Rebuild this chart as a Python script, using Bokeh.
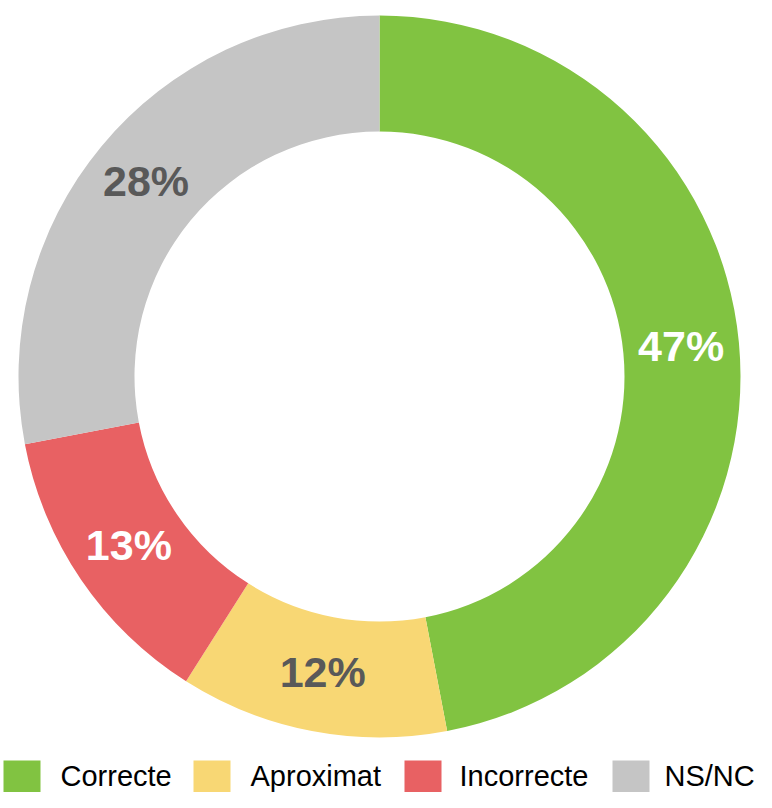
import math
from bokeh.plotting import figure
from bokeh.models import Range1d, ColumnDataSource
from bokeh.core.properties import value
from bokeh.embed import file_html
from bokeh.resources import INLINE

# ---- data ----
categories = ["Correcte", "Aproximat", "Incorrecte", "NS/NC"]
percentages = [47, 12, 13, 28]
colors = ["#81C341", "#F8D774", "#E86163", "#C5C5C5"]
label_colors = ["#FFFFFF", "#595959", "#FFFFFF", "#595959"]

# ---- geometry (pixel-like data units, centre of donut at 0,0) ----
R_OUT = 361
R_IN = 245
total = float(sum(percentages))

starts, ends, lx, ly, labels = [], [], [], [], []
cum = 0.0
for v in percentages:
    a0 = math.pi / 2 - 2 * math.pi * cum / total
    a1 = math.pi / 2 - 2 * math.pi * (cum + v) / total
    starts.append(a0)
    ends.append(a1)
    mid = (a0 + a1) / 2
    rm = (R_OUT + R_IN) / 2
    lx.append(rm * math.cos(mid))
    ly.append(rm * math.sin(mid) + 2)
    labels.append(f"{v}%")
    cum += v

src = ColumnDataSource(dict(start=starts, end=ends, color=colors, cat=categories))
lab = ColumnDataSource(dict(x=lx, y=ly, text=labels, color=label_colors))

W, H = 756, 792
CX, CY = 379, 376  # donut centre in figure pixels
p = figure(width=W, height=H, output_backend="svg", toolbar_location=None,
           x_range=Range1d(-CX, W - CX), y_range=Range1d(CY - H, CY),
           x_axis_location=None, y_axis_location=None, min_border=0,
           outline_line_color=None, background_fill_color="white")
p.grid.visible = False

p.annular_wedge(x=0, y=0, inner_radius=R_IN, outer_radius=R_OUT,
                start_angle="start", end_angle="end", direction="clock",
                fill_color="color", line_color=None, source=src)

p.text(x="x", y="y", text="text", text_color="color", source=lab,
       text_font=value("Liberation Sans"), text_font_style="bold",
       text_font_size="43px", text_align="center", text_baseline="middle")

# ---- legend (drawn manually) ----
sq_left = [3, 193, 404, 612]
tx_left = [60, 250, 459, 664]
leg_y = CY - 775
leg_src = ColumnDataSource(dict(
    x=[s + 18.5 - CX for s in sq_left], y=[CY - 776] * 4, color=colors))
p.rect(x="x", y="y", width=37, height=32, fill_color="color", line_color=None,
       source=leg_src)
leg_txt = ColumnDataSource(dict(
    x=[t - CX for t in tx_left], y=[leg_y] * 4, text=categories))
p.text(x="x", y="y", text="text", source=leg_txt, text_color="#000000",
       text_font=value("Liberation Sans"), text_font_size="29px",
       text_align="left", text_baseline="middle")

open("out.html", "w").write(file_html(p, INLINE))
